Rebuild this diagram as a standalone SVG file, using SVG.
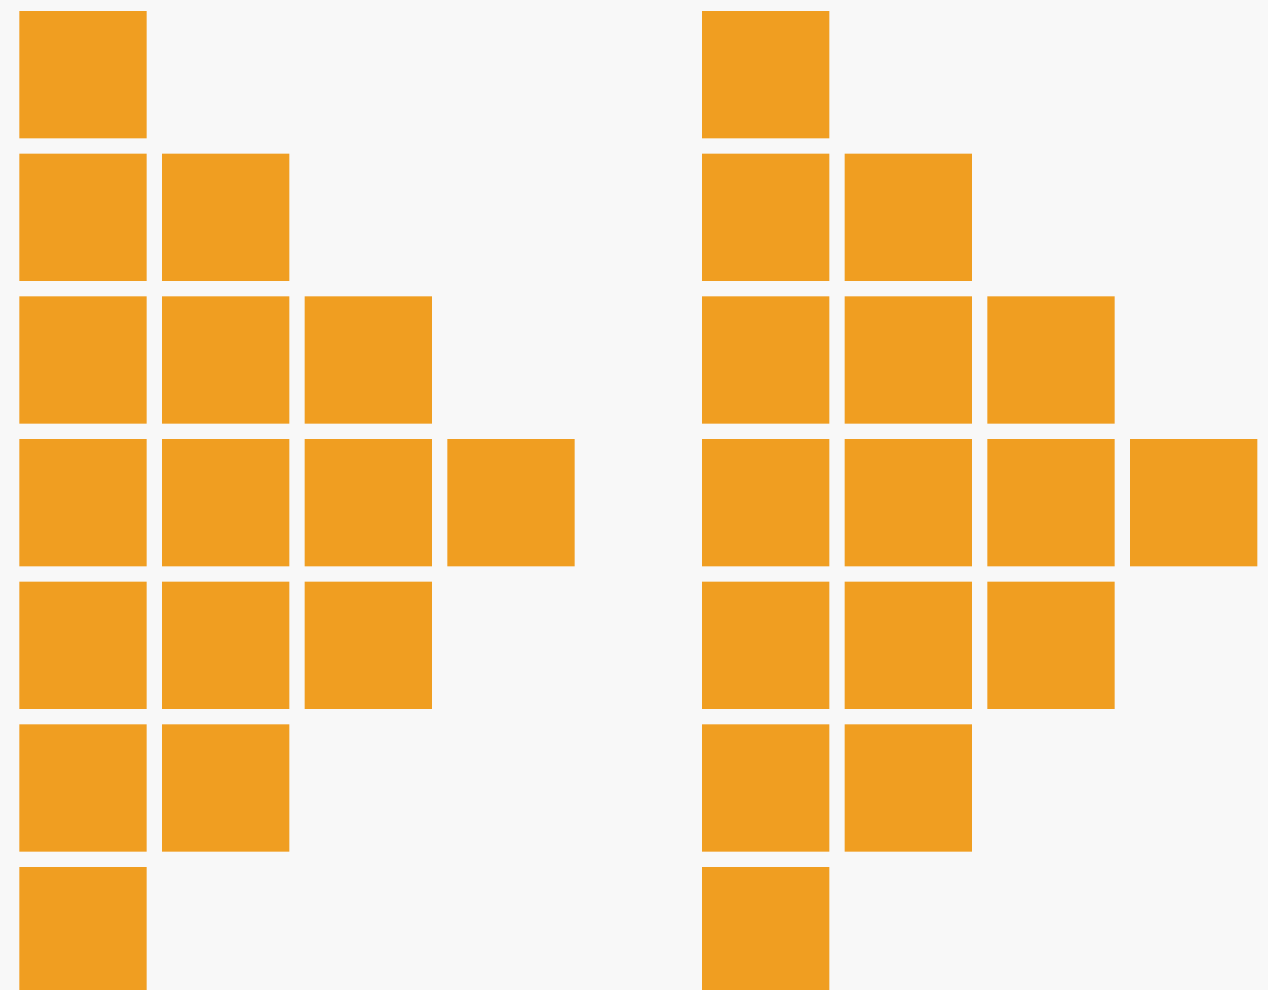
<svg xmlns="http://www.w3.org/2000/svg" width="1268" height="990" viewBox="0 0 1268 990">
<style>
.bg{fill:#f8f8f8}
.sq{fill:#f09e21;width:127.33px;height:127.33px}
</style>
<defs>
<rect id="s" width="127.33" height="127.33" fill="#f09e21"/>
</defs>
<rect class="bg" x="0" y="0" width="1268" height="990"/>
<g id="left">
<use href="#s" x="19.33" y="11"/>
<use href="#s" x="19.33" y="153.67"/><use href="#s" x="162" y="153.67"/>
<use href="#s" x="19.33" y="296.33"/><use href="#s" x="162" y="296.33"/><use href="#s" x="304.67" y="296.33"/>
<use href="#s" x="19.33" y="439"/><use href="#s" x="162" y="439"/><use href="#s" x="304.67" y="439"/><use href="#s" x="447.33" y="439"/>
<use href="#s" x="19.33" y="581.67"/><use href="#s" x="162" y="581.67"/><use href="#s" x="304.67" y="581.67"/>
<use href="#s" x="19.33" y="724.33"/><use href="#s" x="162" y="724.33"/>
<use href="#s" x="19.33" y="867"/>
</g>
<g id="right">
<use href="#s" x="702" y="11"/>
<use href="#s" x="702" y="153.67"/><use href="#s" x="844.67" y="153.67"/>
<use href="#s" x="702" y="296.33"/><use href="#s" x="844.67" y="296.33"/><use href="#s" x="987.33" y="296.33"/>
<use href="#s" x="702" y="439"/><use href="#s" x="844.67" y="439"/><use href="#s" x="987.33" y="439"/><use href="#s" x="1130" y="439"/>
<use href="#s" x="702" y="581.67"/><use href="#s" x="844.67" y="581.67"/><use href="#s" x="987.33" y="581.67"/>
<use href="#s" x="702" y="724.33"/><use href="#s" x="844.67" y="724.33"/>
<use href="#s" x="702" y="867"/>
</g>
</svg>
